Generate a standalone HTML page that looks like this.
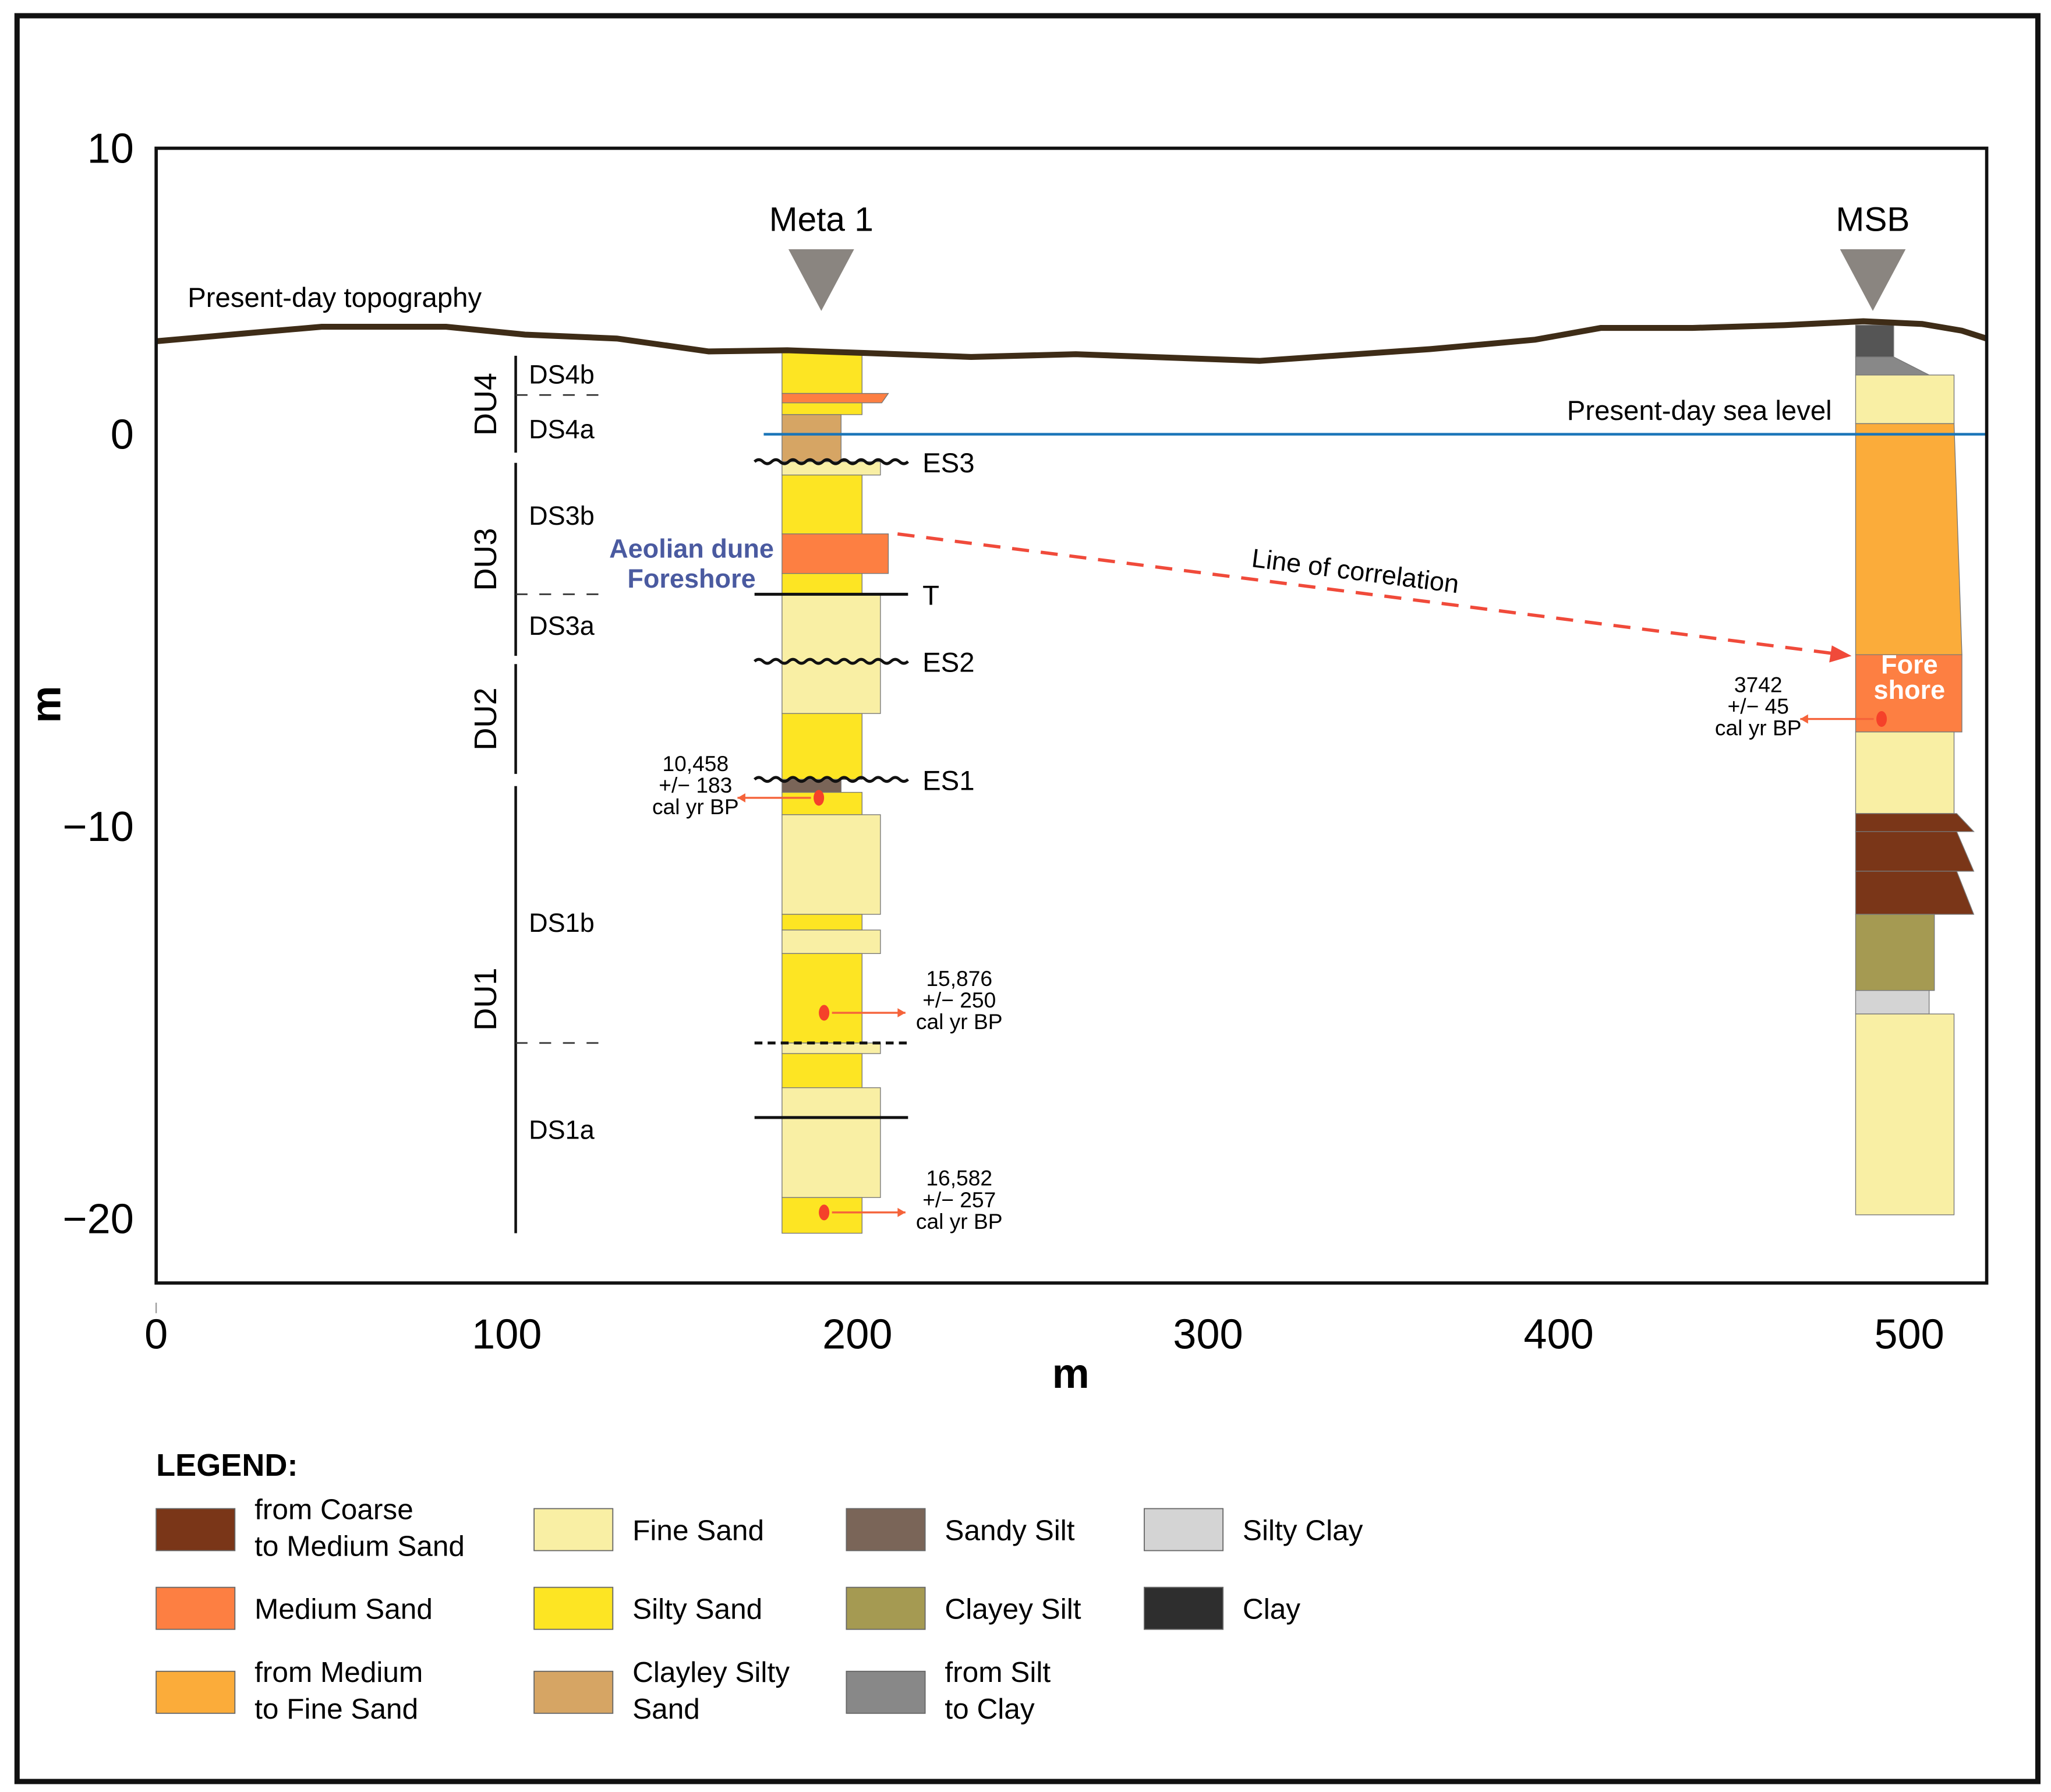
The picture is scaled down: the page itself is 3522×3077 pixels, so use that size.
<!DOCTYPE html>
<html><head><meta charset="utf-8"><style>
html,body{margin:0;padding:0;background:#fff}
svg{display:block}
text{font-family:"Liberation Sans",Arial,sans-serif}
</style></head><body>
<svg id="chart" xmlns="http://www.w3.org/2000/svg" width="3522" height="3077" viewBox="0 0 1563 1366" preserveAspectRatio="none">
<rect x="13" y="12" width="1540" height="1346" fill="#fff" stroke="#111" stroke-width="4"/>
<g id="plot"></g>
<rect x="119" y="113" width="1395" height="865" fill="none" stroke="#111" stroke-width="2.5"/>
<text x="0" y="0" transform="translate(46,537) rotate(-90)" font-size="32" font-weight="bold" text-anchor="middle">m</text>
<text x="816" y="1058" font-size="32" font-weight="bold" text-anchor="middle">m</text>
<text x="119" y="1125" font-size="24" font-weight="bold">LEGEND:</text>
<g id="legend"></g>
</svg>
<script>
// ---- data ----
const yTickValues = [10, 0, -10, -20];
const yTickLabels = ["10", "0", "\u221210", "\u221220"];
const xTickValues = [0, 100, 200, 300, 400, 500];
const xTickLabels = ["0", "100", "200", "300", "400", "500"];
const topoDist = [0,26.6,47.2,82.7,105.2,131.4,157.6,180,202.5,232.4,262.3,314.7,363.4,393.3,412,438.2,464.4,486.9,503.7,515,522];
const topoElev = [2.37,2.58,2.74,2.74,2.54,2.44,2.11,2.14,2.07,1.97,2.04,1.87,2.17,2.41,2.71,2.71,2.78,2.88,2.81,2.64,2.44];
const meta1Pos = 178.5;
const meta1Tops = [2.11,1.04,0.80,0.50,-0.70,-1.04,-2.54,-3.55,-4.08,-7.12,-8.80,-9.13,-9.70,-12.24,-12.64,-13.24,-15.52,-15.79,-16.66,-19.46];
const meta1Bots = [1.04,0.80,0.50,-0.70,-1.04,-2.54,-3.55,-4.08,-7.12,-8.80,-9.13,-9.70,-12.24,-12.64,-13.24,-15.52,-15.79,-16.66,-19.46,-20.37];
const meta1Lith = ["SS","MS","SS","CSS","FS","SS","MS","SS","FS","SS","SSI","SS","FS","SS","FS","SS","FS","SS","FS","SS"];
const msbPos = 484.7;
const msbTops = [2.78,1.97,1.51,0.27,-5.62,-7.59,-9.67,-10.13,-11.14,-12.24,-14.18,-14.78];
const msbBots = [1.97,1.51,0.27,-5.62,-7.59,-9.67,-10.13,-11.14,-12.24,-14.18,-14.78,-19.90];
const msbLith = ["CL","SC","FS","MF","MS","FS","CM","CM","CM","CS","SCL","FS"];
const surfaceNames = ["ES3","T","ES2","ES1","",""];
const surfaceElev = [-0.70,-4.08,-5.79,-8.80,-15.52,-17.42];
const surfaceKind = ["wavy","flat","wavy","wavy","dash","flat"];
const dateLabels = [["10,458","+/\u2212 183","cal yr BP"],["15,876","+/\u2212 250","cal yr BP"],["16,582","+/\u2212 257","cal yr BP"],["3742","+/\u2212 45","cal yr BP"]];
const datePos = [189, 190.5, 190.5, 492.1];
const dateElev = [-9.27, -14.75, -19.84, -7.26];
const dateSide = [-1, 1, 1, -1];
const duNames = ["DU4","DU3","DU2","DU1"];
const duTop = [2.0, -0.73, -5.86, -8.97];
const duBot = [-0.47, -5.65, -8.66, -20.37];
const dsNames = ["DS4b","DS4a","DS3b","DS3a","DS1b","DS1a"];
const dsElev = [1.53, 0.13, -2.07, -4.88, -12.45, -17.73];
const dsDivider = [1.0, -4.08, -15.52];
// ---- styles ----
const COL = {CM:"#7a3618",MS:"#fd7f42",MF:"#fbac3a",FS:"#f9efa4",SS:"#fde523",CSS:"#d6a564",SSI:"#7a6558",CS:"#a59a52",SC:"#888888",SCL:"#d4d4d4",CL:"#555555"};
const WID = {CM:75,MS:81,MF:75,FS:75,SS:61,CSS:45,SSI:45,CS:60,SC:56,SCL:56,CL:29};
const WIDM = {FS:75,SS:61,MS:81,CSS:45,SSI:45};
const NS="http://www.w3.org/2000/svg";
function X(v){return 119+2.672*v;}
function Y(v){return 331-29.9*v;}
function el(tag,attrs,parent,txt){const e=document.createElementNS(NS,tag);for(const k in attrs)e.setAttribute(k,attrs[k]);if(txt!==undefined)e.textContent=txt;(parent||plot).appendChild(e);return e;}
const plot=document.getElementById('plot');
const svg=document.getElementById('chart');
// ticks
yTickValues.forEach((v,i)=>{
  const yy = v===10 ? 113 : Y(v);
  const t=el('text',{x:102,y:yy+11,'font-size':32,'text-anchor':'end'},svg,yTickLabels[i]);
  
  
});
xTickValues.forEach((v,i)=>{
  const t=el('text',{x:X(v),y:1028,'font-size':32,'text-anchor':'middle'},svg,xTickLabels[i]);
  
  
});
const tk=el('line',{x1:119,y1:993,x2:119,y2:1001,stroke:'#999','stroke-width':1},svg);


// meta1 column
meta1Tops.forEach((t,i)=>{
  const L=meta1Lith[i], x0=X(meta1Pos), w=WIDM[L];
  let e;
  if(L==="MS" && Y(meta1Bots[i])-Y(t)<12){
    e=el('polygon',{points:`${x0},${Y(t)} ${x0+w},${Y(t)} ${x0+w-5},${Y(meta1Bots[i])} ${x0},${Y(meta1Bots[i])}`,fill:COL[L],stroke:'#777','stroke-width':0.6});
  } else {
    e=el('rect',{x:x0,y:Y(t),width:w,height:Y(meta1Bots[i])-Y(t),fill:COL[L],stroke:'#777','stroke-width':0.6});
  }
  
  
});
// msb column
msbTops.forEach((t,i)=>{
  const L=msbLith[i], x0=X(msbPos), w=WID[L], y0=Y(t), y1=Y(msbBots[i]);
  let pts;
  if(L==="CM") pts=`${x0},${y0} ${x0+w+2},${y0} ${x0+w+15},${y1} ${x0},${y1}`;
  else if(L==="MF") pts=`${x0},${y0} ${x0+75},${y0} ${x0+81},${y1} ${x0},${y1}`;
  else if(L==="SC") pts=`${x0},${y0} ${x0+29},${y0} ${x0+56},${y1} ${x0},${y1}`;
  else pts=`${x0},${y0} ${x0+w},${y0} ${x0+w},${y1} ${x0},${y1}`;
  const e=el('polygon',{points:pts,fill:COL[L],stroke:'#777','stroke-width':0.6});
  
  
});
const fs=el('text',{x:X(msbPos)+41,y:Y(-6.1),'font-size':20,'font-weight':'bold',fill:'#fff','text-anchor':'middle'},plot,'Fore');


const fs2=el('text',{x:X(msbPos)+41,y:Y(-6.75),'font-size':20,'font-weight':'bold',fill:'#fff','text-anchor':'middle'},plot,'shore');


// sea level
const sl=el('line',{x1:582,y1:Y(0),x2:1514,y2:Y(0),stroke:'#1a75b8','stroke-width':2});


const slt=el('text',{x:1396,y:320,'font-size':21,'text-anchor':'end'},plot,'Present-day sea level');


// topography
const tp=el('polyline',{points:topoDist.map((d,i)=>X(d)+','+Y(topoElev[i])).join(' '),fill:'none',stroke:'#3e2c17','stroke-width':4.5});


const tpt=el('text',{x:143,y:234,'font-size':21},plot,'Present-day topography');


// surfaces
surfaceElev.forEach((v,i)=>{
  const yy=Y(v), k=surfaceKind[i]; let e;
  if(k==="wavy"){let d=`M575,${yy}`;for(let x=575;x<692;x+=13)d+=` q3.25,-3 6.5,0 t6.5,0`;e=el('path',{d:d,fill:'none',stroke:'#111','stroke-width':2.2});}
  else if(k==="dash") e=el('line',{x1:575,y1:yy,x2:692,y2:yy,stroke:'#111','stroke-width':2.2,'stroke-dasharray':'6,4'});
  else e=el('line',{x1:575,y1:yy,x2:692,y2:yy,stroke:'#111','stroke-width':2.2});
  
  
  if(surfaceNames[i]){const t=el('text',{x:703,y:yy+8,'font-size':21},plot,surfaceNames[i]);
  
  }
});
// DU / DS
duNames.forEach((n,i)=>{
  const l=el('line',{x1:393,y1:Y(duTop[i]),x2:393,y2:Y(duBot[i]),stroke:'#111','stroke-width':2});
  
  
  const c=(Y(duTop[i])+Y(duBot[i]))/2 + (i===0?0:(i===3?-8:0));
  const t=el('text',{transform:`translate(378,${c}) rotate(-90)`,'font-size':24,'text-anchor':'middle'},plot,n);
  
  
});
dsNames.forEach((n,i)=>{
  const t=el('text',{x:403,y:Y(dsElev[i])+7,'font-size':20},plot,n);
  
  
});
dsDivider.forEach(v=>{
  const l=el('line',{x1:393,y1:Y(v),x2:460,y2:Y(v),stroke:'#333','stroke-width':1.2,'stroke-dasharray':'9,9'});
  
  
});
const ad=el('text',{x:527,y:425,'font-size':20,'font-weight':'bold',fill:'#4a5aa0','text-anchor':'middle'},plot,'Aeolian dune');


const fo=el('text',{x:527,y:448,'font-size':20,'font-weight':'bold',fill:'#4a5aa0','text-anchor':'middle'},plot,'Foreshore');


// correlation
const cl=el('line',{x1:684,y1:407,x2:1396,y2:498,stroke:'#f04a3a','stroke-width':2.5,'stroke-dasharray':'13,9'});


const ah=el('polygon',{points:'1411,500 1396,492 1394,505',fill:'#f04a3a'});


const ct=el('text',{transform:'translate(1032,442) rotate(7.3)','font-size':20,'text-anchor':'middle'},plot,'Line of correlation');


// dates
dateLabels.forEach((lab,i)=>{
  const dx=X(datePos[i]), dy=Y(dateElev[i]), s=dateSide[i];
  const d=el('ellipse',{cx:dx,cy:dy,rx:4,ry:6,fill:'#f5412a'});
  
  
  const ex=dx+s*62;
  const a=el('line',{x1:dx+s*6,y1:dy,x2:ex,y2:dy,stroke:'#f5633a','stroke-width':1.5});
  
  
  const h=el('polygon',{points:`${ex},${dy} ${ex-s*6},${dy-3.5} ${ex-s*6},${dy+3.5}`,fill:'#f5633a'});
  
  
  const tx = s>0 ? ex+41 : ex-32;
  lab.forEach((line,j)=>{
    const t=el('text',{x:tx,y:dy-10+(j-1)*16.5+6,'font-size':16.5,'text-anchor':'middle'},plot,line);
    
    
  });
});
// well markers
[[meta1Pos+11.2,"Meta 1"],[msbPos+4.9,"MSB"]].forEach(([p,n])=>{
  const cx=X(p);
  const tr=el('polygon',{points:`${cx-25},190 ${cx+25},190 ${cx},237`,fill:'#8a8580'});
  
  
  const t=el('text',{x:cx,y:176,'font-size':26,'text-anchor':'middle'},plot,n);
  
  
});
// legend
const legend=document.getElementById('legend');
const legItems=[[119,1150,"CM",["from Coarse","to Medium Sand"]],[119,1210,"MS",["Medium Sand"]],[119,1274,"MF",["from Medium","to Fine Sand"]],
[407,1150,"FS",["Fine Sand"]],[407,1210,"SS",["Silty Sand"]],[407,1274,"CSS",["Clayley Silty","Sand"]],
[645,1150,"SSI",["Sandy Silt"]],[645,1210,"CS",["Clayey Silt"]],[645,1274,"SC",["from Silt","to Clay"]],
[872,1150,"SCL",["Silty Clay"]],[872,1210,"CL",["Clay"]]];
legItems.forEach(([x,y,c,lines])=>{
  const r=el('rect',{x:x,y:y,width:60,height:32,fill:c==="CL"?"#2e2e2e":COL[c],stroke:'#666','stroke-width':0.8},legend);
  
  
  lines.forEach((ln,j)=>{
    const yy = lines.length===1 ? y+24 : y+8+j*28;
    const t=el('text',{x:x+75,y:yy,'font-size':22},legend,ln);
    
    
  });
});
</script>
</body></html>
